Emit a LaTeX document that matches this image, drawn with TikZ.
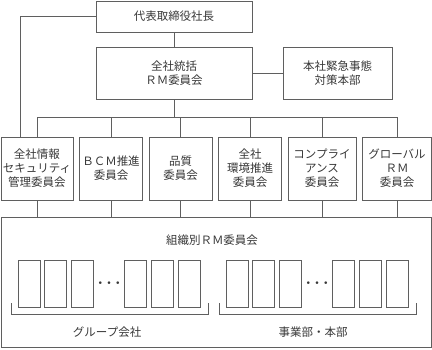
\documentclass[tikz,border=0pt]{standalone}
\usepackage{fontspec}
\newfontfamily\jpfont{Noto Sans CJK JP}
\usetikzlibrary{positioning,calc}
\definecolor{rule}{RGB}{95,95,95}
\definecolor{ink}{RGB}{55,55,55}
\tikzset{
  box/.style={draw=rule, line width=0.8pt, inner sep=0pt, outer sep=0pt,
              align=center, text=ink, font=\jpfont\fontsize{11.5}{14}\selectfont},
  cmte/.style={box, minimum width=63pt, minimum height=63pt},
  unit/.style={draw=rule, line width=0.7pt, inner sep=0pt,
               minimum width=22pt, minimum height=47pt},
  lbl/.style={text=ink, font=\jpfont\fontsize{11.5}{14}\selectfont},
  link/.style={draw=rule, line width=0.8pt},
}

\begin{document}
\begin{tikzpicture}[x=1pt, y=1pt, node distance=6.5pt]
    \useasboundingbox (0,0) rectangle (432,-349);
    % top of the organisation
    \node[box, minimum width=156pt, minimum height=31pt] (ceo) at (174,-16.5) {代表取締役社長};
    \node[box, minimum width=156pt, minimum height=52pt] (rm) at (174,-73) {全社統括\\ＲＭ委員会};
    \node[box, minimum width=109pt, minimum height=52pt, right=31pt of rm] (crisis) {本社緊急事態\\対策本部};
    % committees
    \node[cmte, minimum width=72pt] (c1) at (37,-168.5) {全社情報\\セキュリティ\\管理委員会};
    \node[cmte, right=of c1] (c2) {ＢＣＭ推進\\委員会};
    \node[cmte, right=of c2] (c3) {品質\\委員会};
    \node[cmte, right=of c3] (c4) {全社\\環境推進\\委員会};
    \node[cmte, minimum width=68pt, right=of c4] (c5) {コンプライ\\アンス\\委員会};
    \node[cmte, minimum width=69pt, right=of c5] (c6) {グローバル\\ＲＭ\\委員会};
    % organisation level
    \node[box, minimum width=430pt, minimum height=130pt] (org) at (216,-282) {};
    \node[lbl] (orgname) at (212,-240) {組織別ＲＭ委員会};
    \foreach \g/\x in {a/18, b/226}{
      \foreach \i in {0,1,2,4,5,6}
        \node[unit] (\g\i) at (\x+\i*26.7+11,-283.5) {};
      \node[text=ink, font=\fontsize{17}{17}\selectfont\boldmath] (\g3) at (\x+3*26.7+11,-283.5) {$\cdots$};
      \draw[link] ($(\g0.south west)+(-6,4)$) -- ++(0,-11) -| ($(\g6.south east)+(8,4)$);
    }
    \node[lbl] (grp) at ($(a0.south west)!0.5!(a6.south east)+(-2,-25)$) {グループ会社};
    \node[lbl] (biz) at ($(b0.south west)!0.5!(b6.south east)+(-4,-25)$) {事業部・本部};

    % connectors
    \draw[link] (ceo) -- (rm);
    \draw[link] (rm) -- (crisis);
    \coordinate (bus) at (174,-117);
    \draw[link] (rm.south) -- (bus);
    \draw[link] (bus -| c1) -- (bus -| c6);
    \foreach \c in {c1,c2,c3,c4,c5,c6}{
      \draw[link] (bus -| \c) -- (\c.north);
      \draw[link] (\c.south) -- (\c.south |- org.north);
    }
    \coordinate (sec) at ([xshift=19pt]c1.north west);
    \draw[link] (ceo.west) -| (sec);
  \end{tikzpicture}
\end{document}
